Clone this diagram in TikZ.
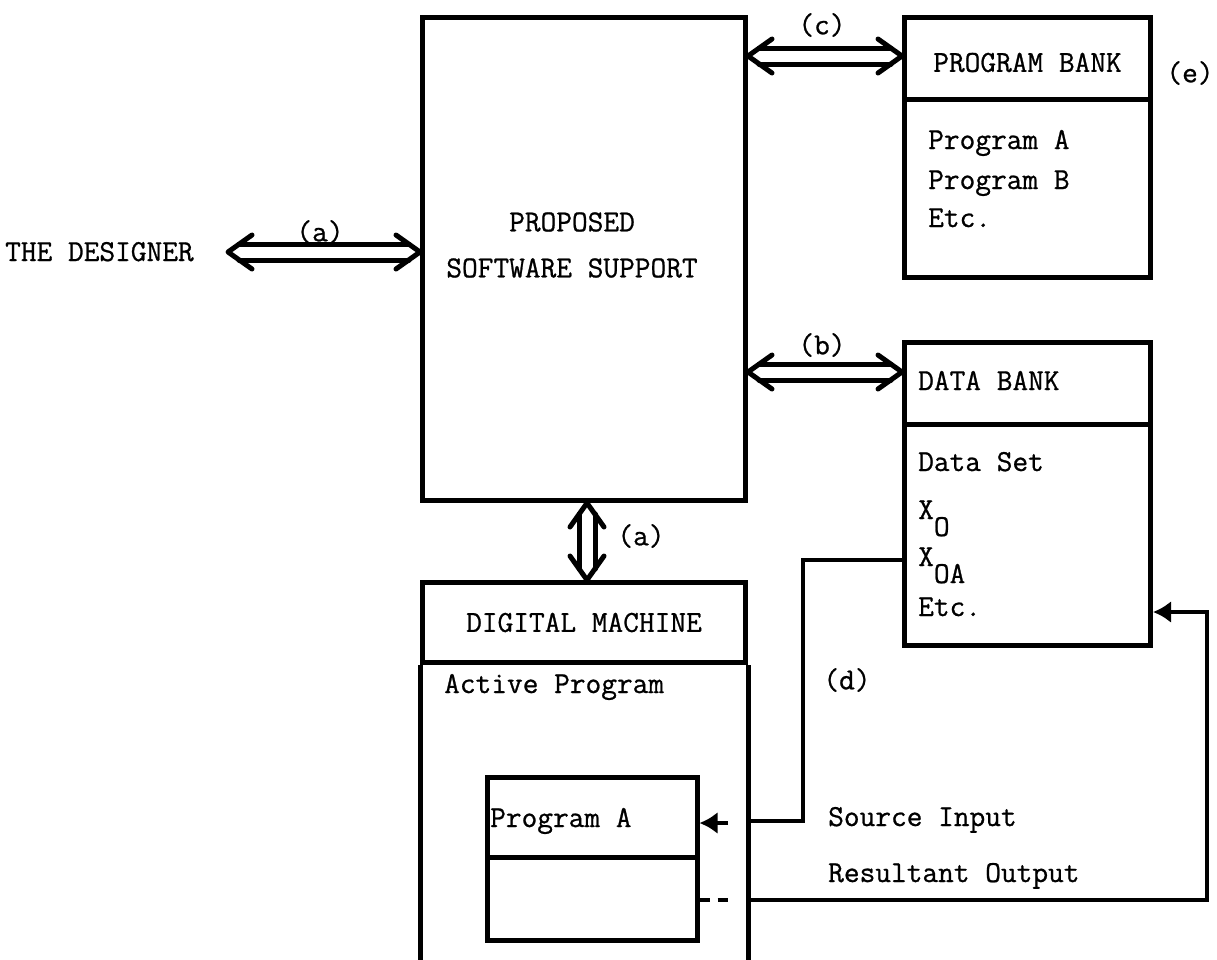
\documentclass[tikz,border=0pt]{standalone}
\usepackage{fontspec}
\usetikzlibrary{arrows.meta,calc}
\newfontfamily\typewriter{Latin Modern Mono}[FakeBold=0.8]

% horizontal double-shafted arrow with open heads at both ends (#1 left tip, #2 right tip)
\newcommand{\dblh}[2]{%
  \draw[dbl] ($(#1)+(11,-8)$) -- ($(#2)+(-11,-8)$) ($(#1)+(11,8)$) -- ($(#2)+(-11,8)$);
  \draw[dbl] ($(#1)+(24,-17)$) -- (#1) -- ($(#1)+(24,17)$);
  \draw[dbl] ($(#2)+(-24,-17)$) -- (#2) -- ($(#2)+(-24,17)$);}
% vertical double-shafted arrow (#1 upper tip, #2 lower tip)
\newcommand{\dblv}[2]{%
  \draw[dbl] ($(#1)+(-8,11)$) -- ($(#2)+(-8,-11)$) ($(#1)+(8,11)$) -- ($(#2)+(8,-11)$);
  \draw[dbl] ($(#1)+(-17,24)$) -- (#1) -- ($(#1)+(17,24)$);
  \draw[dbl] ($(#2)+(-17,-24)$) -- (#2) -- ($(#2)+(17,-24)$);}

\begin{document}
\begin{tikzpicture}[x=1pt,y=-1pt,
  box/.style={draw, line width=5pt, inner sep=0pt, anchor=north west},
  inbox/.style={draw, line width=4.5pt, inner sep=0pt, anchor=north west},
  side/.style={line width=5pt},
  lbl/.style={font=\typewriter\fontsize{30.5}{46}\selectfont, inner sep=0pt},
  dbl/.style={line width=5pt, line cap=round, line join=round},
  wire/.style={line width=4pt},
  head/.style={-{Latex[length=18pt,width=22pt]}}]
\useasboundingbox (0,0) rectangle (1217,959);

% ---- boxes ----
\node[box, minimum width=323pt, minimum height=483pt] (ss) at (420,15) {};
\node[box, minimum width=246pt, minimum height=82pt]  (pbh) at (902,15) {};
\node[box, minimum width=246pt, minimum height=178pt] (pbb) at (902,97) {};
\node[box, minimum width=246pt, minimum height=82pt]  (dbh) at (902,340) {};
\node[box, minimum width=246pt, minimum height=221pt] (dbb) at (902,422) {};
\node[box, minimum width=323pt, minimum height=80pt]  (dmh) at (420,580) {};
\draw[side] (dmh.south west) -- ++(0,420);
\draw[side] (dmh.south east) -- ++(0,420);
\node[inbox, minimum width=210pt, minimum height=80pt] (pah) at (485,775) {};
\node[inbox, minimum width=210pt, minimum height=83pt] (pab) at (485,855) {};

% ---- texts ----
\node[lbl, anchor=base west] (designer) at (5,261) {THE DESIGNER};
\node[lbl, align=center] (sstext) at (572,245) {PROPOSED\\SOFTWARE SUPPORT};
\node[lbl] (pbtitle) at ($(pbh.center)+(0,4)$) {PROGRAM BANK};
\node[lbl, anchor=base west] (pb1) at (928,149) {Program A};
\node[lbl, anchor=base west] (pb2) at (928,189) {Program B};
\node[lbl, anchor=base west] (pb3) at (928,227) {Etc.};
\node[lbl] (elabel) at (1190,73) {(e)};
\node[lbl, anchor=base west] (dbtitle) at (918,390) {DATA BANK};
\node[lbl, anchor=base west] (db1) at (918,471) {Data Set};
\node[lbl, anchor=base west] (db2) at (918,519) {X\raisebox{-17pt}{O}};
\node[lbl, anchor=base west] (db3) at (918,566) {X\raisebox{-17pt}{OA}};
\node[lbl, anchor=base west] (db4) at (918,616) {Etc.};
\node[lbl] (dmtitle) at (dmh.center) {DIGITAL MACHINE};
\node[lbl, anchor=base west] (active) at (444,693) {Active Program};
\node[lbl, anchor=base west] (patitle) at (490,827) {Program A};
\node[lbl] (dlabel) at (847,680) {(d)};
\node[lbl, anchor=base west] (srcin) at (828,826) {Source Input};
\node[lbl, anchor=base west] (resout) at (828,882) {Resultant Output};

% ---- interface arrows ----
\coordinate (aL) at (228,252);
\coordinate (aR) at (ss.west |- aL);
\dblh{aL}{aR}
\node[lbl] (alabel) at (320,232) {(a)};

\coordinate (cL) at (ss.east |- 0,56);
\coordinate (cR) at (pbh.west |- cL);
\dblh{cL}{cR}
\node[lbl] (clabel) at (822,25) {(c)};

\coordinate (bL) at (ss.east |- 0,372);
\coordinate (bR) at (dbh.west |- bL);
\dblh{bL}{bR}
\node[lbl] (blabel) at (822,345) {(b)};

\coordinate (vT) at (ss.south -| 587,0);
\coordinate (vB) at (dmh.north -| vT);
\dblv{vT}{vB}
\node[lbl] (vlabel) at (641,536) {(a)};

% ---- data flow (d) ----
\coordinate (srcJog) at (803,560);
\draw[wire] (dbb.west |- srcJog) -- (srcJog) -- (srcJog |- 0,821) -- (dmh.east |- 0,821);
\coordinate (srcStub) at (728,823);
\draw[wire, head] (srcStub) -- (pah.east |- srcStub);

\coordinate (outStub) at (728,900);
\draw[wire, dash pattern=on 10pt off 8pt] (pab.east |- outStub) -- (outStub);
\coordinate (outCorner) at (1207,900);
\draw[wire, head] (dmh.east |- outCorner) -- (outCorner) -- (outCorner |- 0,612) -- (dbb.east |- 0,612);
\end{tikzpicture}
\end{document}
